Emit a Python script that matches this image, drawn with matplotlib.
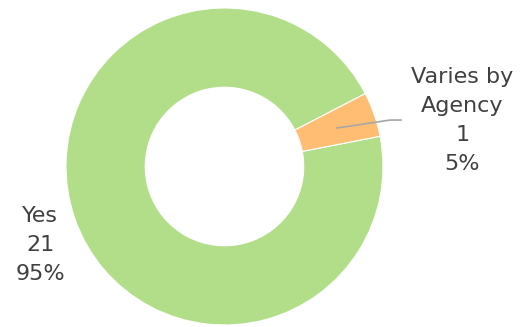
import matplotlib.pyplot as plt

# Response counts per answer
categories = ["Yes", "Varies by\nAgency"]
counts = [21, 1]
colors = ["#B2DE8A", "#FEBD72"]

total = sum(counts)
labels = [f"{c}\n{n}\n{round(100 * n / total)}%" for c, n in zip(categories, counts)]

fig = plt.figure(figsize=(5.27, 3.27), dpi=100)
ax = fig.add_axes([66 / 527, 2 / 327, 317 / 527, 317 / 327])

ax.pie(counts, colors=colors, startangle=11, counterclock=False, radius=1.0,
       wedgeprops=dict(width=0.5, edgecolor="white", linewidth=0.8))
ax.set_xlim(-1, 1)
ax.set_ylim(-1, 1)
ax.set_aspect("equal")
ax.axis("off")

txt = dict(ha="center", va="center", fontsize=16, color="#404040",
           family="DejaVu Sans", linespacing=1.55)
ax.text(-1.164, -0.495, labels[0], **txt)
ax.text(1.50, 0.29, labels[1], **txt)

# leader line for the small slice
ax.plot([0.71, 1.044, 1.114], [0.243, 0.293, 0.293], color="#A6A6A6",
        linewidth=1.2, clip_on=False)

fig.savefig("out.png", dpi=100)
